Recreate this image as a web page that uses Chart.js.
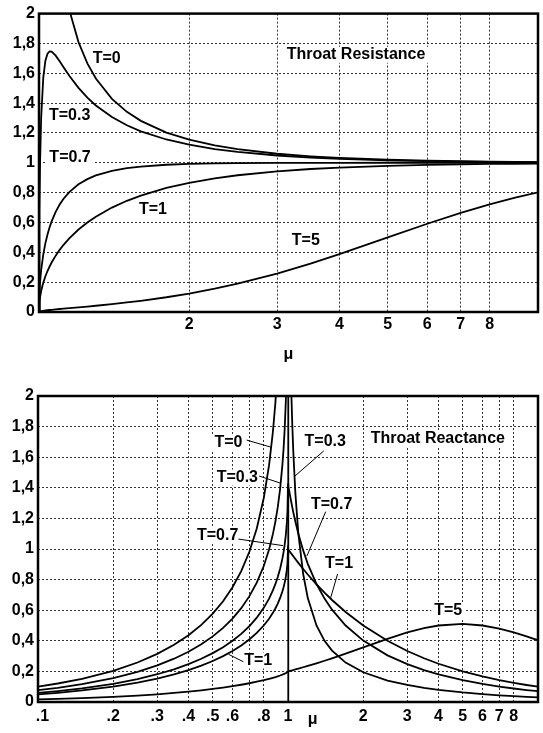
<!DOCTYPE html>
<html><head><meta charset="utf-8">
<script src="https://cdn.jsdelivr.net/npm/chart.js@4.4.1/dist/chart.umd.min.js"></script>
<style>
html,body{margin:0;padding:0;background:#fff;}
#wrap{position:relative;width:543px;height:733px;background:#fff;overflow:hidden;}
canvas{position:absolute;left:0;}
#c1{top:0;} #c2{top:370px;}
</style></head><body>
<div id="wrap"><canvas id="c1" width="543" height="370"></canvas><canvas id="c2" width="543" height="363"></canvas></div>
<script>
// ---------- Throat resistance (top) ----------
const muTop = [1, 1.002, 1.005, 1.01, 1.02, 1.03, 1.04, 1.05, 1.06, 1.08, 1.1, 1.12, 1.15, 1.2, 1.25, 1.3, 1.4, 1.5, 1.6, 1.8, 2, 2.25, 2.5, 3, 3.5, 4, 5, 6, 7, 8, 9, 10];
const resT0  = [null, 15.83, 10.04, 7.124, 5.075, 4.174, 3.641, 3.280, 3.015, 2.648, 2.400, 2.2205, 2.025, 1.8091, 1.6667, 1.5650, 1.4289, 1.3416, 1.2810, 1.2027, 1.1547, 1.1163, 1.0911, 1.0607, 1.0435, 1.0328, 1.0206, 1.0142, 1.0104, 1.0079, 1.0062, 1.0050];
const resT03 = [0, 0.6744, 1.0059, 1.3005, 1.5722, 1.6844, 1.7313, 1.7463, 1.7447, 1.7182, 1.6803, 1.6403, 1.5832, 1.5019, 1.4368, 1.3844, 1.3064, 1.2515, 1.2112, 1.1562, 1.1211, 1.0921, 1.0727, 1.0489, 1.0352, 1.0266, 1.0168, 1.0116, 1.0085, 1.0065, 1.0051, 1.0041];
const resT07 = [0, 0.1283, 0.2012, 0.2807, 0.3865, 0.4614, 0.5198, 0.5674, 0.6073, 0.6712, 0.7201, 0.7589, 0.8038, 0.8559, 0.8907, 0.9151, 0.9460, 0.9638, 0.9748, 0.9868, 0.9926, 0.9962, 0.9979, 0.9994, 0.9999, 1.0001, 1.0002, 1.0002, 1.0002, 1.0001, 1.0001, 1.0001];
const resT1  = [0, 0.0632, 0.0996, 0.1404, 0.1971, 0.2396, 0.2747, 0.3049, 0.3317, 0.3777, 0.4166, 0.4503, 0.4938, 0.5528, 0.6, 0.6390, 0.6999, 0.7454, 0.7806, 0.8315, 0.8660, 0.8958, 0.9165, 0.9428, 0.9583, 0.9682, 0.9798, 0.9860, 0.9897, 0.9922, 0.9938, 0.9950];
const resT5  = [0, 0.0025, 0.0040, 0.0057, 0.0082, 0.0101, 0.0118, 0.0134, 0.0148, 0.0175, 0.0200, 0.0224, 0.0258, 0.0313, 0.0367, 0.0420, 0.0528, 0.0639, 0.0752, 0.0989, 0.1237, 0.1560, 0.1894, 0.2571, 0.3238, 0.3873, 0.4999, 0.5916, 0.6643, 0.7216, 0.7667, 0.8024];

// ---------- Throat reactance (bottom) ----------
const muBot = [0.1, 0.12, 0.15, 0.2, 0.25, 0.3, 0.35, 0.4, 0.45, 0.5, 0.55, 0.6, 0.65, 0.7, 0.75, 0.8, 0.84, 0.87, 0.89, 0.91, 0.93, 0.95, 0.96, 0.97, 0.98, 0.99, 0.995, 1, 1, 1.005, 1.01, 1.02, 1.03, 1.04, 1.05, 1.07, 1.1, 1.15, 1.2, 1.3, 1.4, 1.5, 1.7, 2, 2.5, 3, 3.5, 4, 5, 6, 7, 8, 9, 10];
const reaT0  = [0.1005, 0.1209, 0.1517, 0.2041, 0.2582, 0.3145, 0.3736, 0.4364, 0.5039, 0.5774, 0.6586, 0.75, 0.8553, 0.9802, 1.1339, 1.3333, 1.5481, 1.7645, 1.9519, 2.1949, 2.5302, 3.0424, 3.4286, 3.99, 4.925, 7.018, 9.962, 99, 0, 0, 0, 0, 0, 0, 0, 0, 0, 0, 0, 0, 0, 0, 0, 0, 0, 0, 0, 0, 0, 0, 0, 0, 0, 0];
const reaT03 = [0.0772, 0.0928, 0.1164, 0.1563, 0.1971, 0.2392, 0.2830, 0.3288, 0.3772, 0.4288, 0.4845, 0.5455, 0.6133, 0.6902, 0.7801, 0.8889, 0.9969, 1.0970, 1.1773, 1.2734, 1.3931, 1.5517, 1.6552, 1.7860, 1.9639, 2.2446, 2.4883, 3.3333, 3.3333, 3.0143, 2.7520, 2.3466, 2.0477, 1.8182, 1.6364, 1.3665, 1.1, 0.8364, 0.6792, 0.5, 0.4, 0.3358, 0.2576, 0.1942, 0.1404, 0.1112, 0.0926, 0.0795, 0.0623, 0.0513, 0.0437, 0.0380, 0.0337, 0.0303];
const reaT07 = [0.0590, 0.0709, 0.0888, 0.1191, 0.1499, 0.1814, 0.2138, 0.2474, 0.2825, 0.3193, 0.3583, 0.4, 0.4452, 0.4950, 0.5509, 0.6154, 0.6760, 0.7292, 0.7699, 0.8164, 0.8711, 0.9385, 0.9796, 1.0285, 1.0901, 1.1771, 1.2439, 1.4286, 1.4286, 1.4069, 1.3860, 1.3462, 1.3088, 1.2736, 1.2405, 1.1797, 1.1, 0.9908, 0.9032, 0.7712, 0.6759, 0.6034, 0.5, 0.4011, 0.3049, 0.2473, 0.2087, 0.1808, 0.1429, 0.1183, 0.1011, 0.0882, 0.0783, 0.0704];
const reaT1  = [0.0501, 0.0602, 0.0754, 0.1010, 0.1270, 0.1535, 0.1807, 0.2087, 0.2377, 0.2679, 0.2997, 0.3333, 0.3693, 0.4084, 0.4514, 0.5, 0.5445, 0.5827, 0.6113, 0.6433, 0.6800, 0.7240, 0.75, 0.7803, 0.8174, 0.8676, 0.9046, 1, 1, 0.9950, 0.9901, 0.9804, 0.9709, 0.9615, 0.9524, 0.9346, 0.9091, 0.8696, 0.8333, 0.7692, 0.7143, 0.6667, 0.5882, 0.5, 0.4, 0.3333, 0.2857, 0.25, 0.2, 0.1667, 0.1429, 0.125, 0.1111, 0.1];
const reaT5  = [0.0167, 0.0200, 0.0250, 0.0334, 0.0419, 0.0504, 0.0590, 0.0676, 0.0764, 0.0852, 0.0943, 0.1034, 0.1128, 0.1225, 0.1325, 0.1429, 0.1516, 0.1584, 0.1631, 0.1681, 0.1733, 0.1788, 0.1818, 0.1850, 0.1885, 0.1926, 0.1951, 0.2, 0.2, 0.2009, 0.2018, 0.2037, 0.2055, 0.2073, 0.2091, 0.2128, 0.2182, 0.2271, 0.2358, 0.2530, 0.2696, 0.2857, 0.3161, 0.3571, 0.4132, 0.4545, 0.4828, 0.5, 0.5102, 0.5, 0.4795, 0.4545, 0.4286, 0.4032];

// ---------- ticks ----------
const yTicks  = [0, 0.2, 0.4, 0.6, 0.8, 1, 1.2, 1.4, 1.6, 1.8, 2];
const yLabels = ['0', '0,2', '0,4', '0,6', '0,8', '1', '1,2', '1,4', '1,6', '1,8', '2'];
const xTicksTop  = [1, 2, 3, 4, 5, 6, 7, 8, 10];
const xLabelsTop = ['', '2', '3', '4', '5', '6', '7', '8', ''];
const xTicksBot  = [0.1, 0.2, 0.3, 0.4, 0.5, 0.6, 0.7, 0.8, 1, 2, 3, 4, 5, 6, 7, 8, 10];
const xLabelsBot = ['  .1', '.2', '.3', '.4', '.5', '.6', '', '.8', '1', '2', '3', '4', '5', '6', '7', '8', ''];

// ---------- annotations (data coordinates) ----------
const notesTop = [
  {text: 'T=0',   mu: 1.367, v: 1.696},
  {text: 'T=0.3', mu: 1.152, v: 1.317},
  {text: 'T=0.7', mu: 1.154, v: 1.033},
  {text: 'T=1',   mu: 1.692, v: 0.688},
  {text: 'T=5',   mu: 3.425, v: 0.478},
  {text: 'Throat Resistance', mu: 4.318, v: 1.7235}
];
const notesBot = [
  {text: 'T=0',   mu: 0.578, v: 1.696, lead: [0.683, 1.712, 0.858, 1.665]},
  {text: 'T=0.3', mu: 0.627, v: 1.467, lead: [0.767, 1.477, 0.930, 1.431]},
  {text: 'T=0.7', mu: 0.523, v: 1.085, lead: [0.633, 1.065, 0.955, 1.022]},
  {text: 'T=1',   mu: 0.760, v: 0.271, lead: [0.578, 0.312, 0.663, 0.263]},
  {text: 'T=0.3', mu: 1.409, v: 1.699, lead: [1.390, 1.641, 1.066, 1.477]},
  {text: 'T=0.7', mu: 1.495, v: 1.291, lead: [1.415, 1.244, 1.190, 0.954]},
  {text: 'T=1',   mu: 1.601, v: 0.902, lead: [1.579, 0.837, 1.481, 0.680]},
  {text: 'T=5',   mu: 4.375, v: 0.598},
  {text: 'Throat Reactance', mu: 3.974, v: 1.719}
];

const FAMILY = '"Liberation Sans", Arial, Helvetica, sans-serif';
const FONT = 'bold 16px ' + FAMILY;
Chart.defaults.font.family = FAMILY;
Chart.defaults.font.size = 16;
Chart.defaults.font.weight = 'bold';
Chart.defaults.color = '#000';

function deco(notes, muMark) {
  return {
    id: 'deco',
    beforeDatasetsDraw(chart) {
      const {ctx, scales: {x, y}} = chart;
      ctx.save();
      ctx.font = FONT;
      ctx.fillStyle = '#fff';
      notes.forEach(n => {
        const px = x.getPixelForValue(n.mu), py = y.getPixelForValue(n.v);
        const w = ctx.measureText(n.text).width;
        ctx.fillRect(px - w / 2 - 3, py - 8, w + 6, 16);
      });
      ctx.restore();
    },
    afterDatasetsDraw(chart) {
      const {ctx, chartArea: a, scales: {x, y}} = chart;
      ctx.save();
      ctx.strokeStyle = '#000';
      ctx.lineWidth = 1;
      notes.forEach(n => {
        if (!n.lead) return;
        ctx.beginPath();
        ctx.moveTo(x.getPixelForValue(n.lead[0]), y.getPixelForValue(n.lead[1]));
        ctx.lineTo(x.getPixelForValue(n.lead[2]), y.getPixelForValue(n.lead[3]));
        ctx.stroke();
      });
      ctx.lineWidth = 2.5;
      ctx.strokeRect(a.left, a.top, a.right - a.left, a.bottom - a.top);
      ctx.font = FONT;
      ctx.fillStyle = '#000';
      ctx.textAlign = 'center';
      ctx.textBaseline = 'middle';
      notes.forEach(n => {
        ctx.fillText(n.text, x.getPixelForValue(n.mu), y.getPixelForValue(n.v));
      });
      ctx.textBaseline = 'alphabetic';
      const mx = muMark.mu === null ? (a.left + a.right) / 2 : x.getPixelForValue(muMark.mu);
      ctx.fillText('\u03bc', mx, a.bottom + muMark.dy);
      ctx.restore();
    }
  };
}

function makeChart(id, o) {
  const series = o.series.map(s => ({
    data: o.mu.map((m, i) => ({x: m, y: s[i]})),
    borderColor: '#000', borderWidth: 1.8, pointRadius: 0, tension: 0, fill: false
  }));
  const grid = {color: '#333', lineWidth: 1, drawTicks: false};
  return new Chart(document.getElementById(id), {
    type: 'line',
    data: {datasets: series},
    options: {
      responsive: false, animation: false, devicePixelRatio: 1, events: [],
      layout: {autoPadding: false, padding: o.pad},
      plugins: {legend: {display: false}, tooltip: {enabled: false}},
      scales: {
        x: {
          type: 'logarithmic', min: o.xmin, max: o.xmax,
          afterBuildTicks: s => { s.ticks = o.xTicks.map(v => ({value: v})); },
          afterFit: s => { s.height = o.xH; },
          ticks: {autoSkip: false, maxRotation: 0, minRotation: 0, padding: o.xPad, color: '#000',
                  callback: (v, i) => o.xLabels[i]},
          grid: grid,
          border: {display: false, dash: [2, 2]}
        },
        y: {
          type: 'linear', min: 0, max: 2,
          afterBuildTicks: s => { s.ticks = yTicks.map(v => ({value: v})); },
          afterFit: s => { s.width = o.yW; },
          ticks: {padding: 4, color: '#000', callback: (v, i) => yLabels[i]},
          grid: grid,
          border: {display: false, dash: [2, 2]}
        }
      }
    },
    plugins: [deco(o.notes, o.muMark)]
  });
}

makeChart('c1', {
  mu: muTop, series: [resT0, resT03, resT07, resT1, resT5],
  xmin: 1, xmax: 10, xTicks: xTicksTop, xLabels: xLabelsTop,
  pad: {left: 0, top: 6, right: 5, bottom: 0}, xH: 58, yW: 39, xPad: 3,
  notes: notesTop, muMark: {mu: null, dy: 47}
});
makeChart('c2', {
  mu: muBot, series: [reaT0, reaT03, reaT07, reaT1, reaT5],
  xmin: 0.1, xmax: 10, xTicks: xTicksBot, xLabels: xLabelsBot,
  pad: {left: 0, top: 26, right: 1, bottom: 0}, xH: 31, yW: 38, xPad: 5,
  notes: notesBot, muMark: {mu: 1.256, dy: 22}
});
</script>
</body></html>
